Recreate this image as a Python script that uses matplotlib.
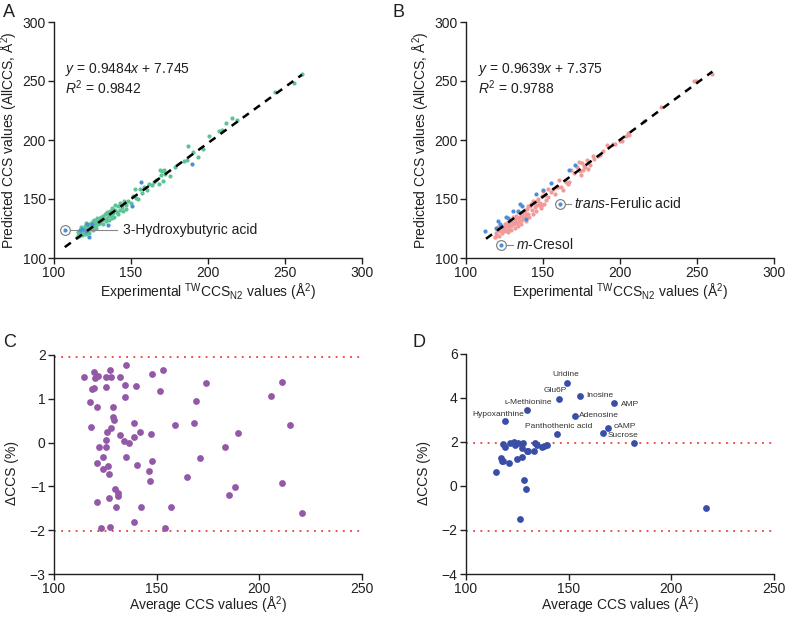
import matplotlib
matplotlib.use("Agg")

import matplotlib.pyplot as plt

# ---- panel A: AllCCS vs TWCCS (set 1) ----
a_green_x = [261.3, 255.9, 243.3, 219.1, 215.5, 212.0, 209.4, 207.2, 200.7, 196.9, 193.4, 190.2, 187.1, 186.1,
             184.5, 178.5, 168.8, 170.3, 171.6, 169.8, 172.4, 175.2, 168.1, 170.9, 164.9, 163.4, 160.1, 155.8,
             152.5, 154.7, 151.5, 148.2, 145.4, 142.8, 141.7, 139.6, 137.8, 139.6, 136.3, 134.2, 135.2, 132.0,
             129.8, 127.7, 125.5, 123.4, 121.6, 120.1, 117.9, 116.9, 115.1,
             144.0, 143.0, 141.0, 138.5, 137.0, 136.0, 134.5, 133.0, 132.5, 131.0, 130.5, 130.0, 129.0, 128.5,
             128.0, 127.0, 126.5, 126.0, 125.0, 124.5, 124.0, 123.5, 122.5, 122.0, 121.5, 121.0, 120.5, 120.0,
             119.5, 119.0, 118.5, 118.0, 117.5, 117.0, 116.5, 116.0, 115.5, 127.5, 125.5, 123.0, 121.0, 131.5,
             133.5, 135.5, 146.5, 147.0, 150.0, 153.0, 157.0, 158.5, 162.0, 166.0, 139.0, 141.5, 145.0, 137.5]
a_green_y = [255.6, 248.0, 241.0, 217.0, 218.9, 214.7, 208.2, 207.4, 203.1, 192.4, 185.6, 189.8, 194.6, 183.3,
             182.0, 177.5, 174.9, 173.4, 174.3, 170.6, 171.5, 169.8, 162.7, 165.0, 164.1, 162.1, 157.3, 158.8,
             158.5, 150.0, 152.3, 148.6, 148.0, 146.6, 144.4, 145.2, 142.4, 140.4, 140.1, 139.0, 136.7, 135.9,
             133.9, 132.5, 131.1, 129.1, 127.4, 125.4, 124.0, 121.2, 117.8,
             143.0, 140.5, 139.0, 138.0, 136.0, 138.5, 134.0, 137.5, 133.0, 132.0, 134.5, 129.5, 131.0, 128.5,
             133.5, 129.5, 127.0, 132.0, 128.0, 126.0, 130.0, 124.5, 127.0, 125.5, 123.0, 129.5, 122.0, 127.5,
             120.5, 125.0, 122.5, 119.5, 126.0, 123.5, 120.0, 118.5, 122.0, 125.5, 124.0, 121.5, 120.0, 129.0,
             131.0, 132.5, 145.0, 141.5, 147.0, 150.5, 155.0, 160.5, 162.5, 166.0, 135.0, 137.5, 139.5, 133.5]
a_blue_x = [107.1, 121.6, 124.4, 122.5, 135.2, 156.2, 150.8, 118.0, 116.9, 189.7, 120.5]
a_blue_y = [124.0, 128.8, 128.8, 117.5, 128.2, 164.1, 144.3, 124.6, 124.0, 180.0, 122.5]

# ---- panel B: AllCCS vs TWCCS (set 2) ----
b_pink_x = [259.6, 247.9, 249.6, 226.3, 215.7, 205.3, 203.8, 199.9, 195.6, 191.7, 189.1, 185.8, 182.2, 178.3,
            175.0, 173.1, 177.0, 179.4, 173.9, 171.8, 170.1, 168.5, 164.9, 160.3, 159.9, 156.6, 153.2, 150.2,
            149.1, 146.9, 149.1, 145.4, 143.7, 141.5, 139.8, 138.3, 136.1, 133.9, 131.8, 129.6, 127.5, 124.9,
            123.1, 120.3, 118.8,
            180.5, 176.0, 174.5, 167.0, 162.0, 158.5, 155.0, 152.0, 151.0, 148.0, 147.5, 146.0, 144.5, 143.0,
            142.0, 140.5, 140.0, 139.0, 138.0, 137.5, 137.0, 136.5, 135.5, 135.0, 134.5, 134.0, 133.0, 132.5,
            132.0, 131.0, 130.5, 130.0, 129.0, 128.5, 128.0, 127.0, 126.5, 126.0, 125.5, 125.0, 124.0, 123.5,
            122.5, 122.0, 121.5, 121.0, 120.0, 119.5, 119.0, 138.8, 141.0, 145.5, 143.5, 136.0, 133.5, 131.5,
            129.5, 127.5, 148.5, 150.5, 153.5, 157.5, 163.0, 166.0, 176.5, 183.0, 187.0, 197.0, 201.0, 206.0]
b_pink_y = [255.6, 250.3, 250.3, 228.0, 215.8, 205.9, 203.7, 198.9, 196.6, 195.5, 191.0, 186.2, 186.2, 183.3,
            180.5, 181.4, 176.8, 175.4, 173.4, 176.8, 172.0, 174.3, 164.1, 166.4, 159.9, 158.8, 158.8, 156.5,
            152.3, 150.0, 145.2, 145.2, 148.0, 143.8, 141.5, 138.1, 135.9, 133.9, 131.1, 129.1, 126.8, 124.6,
            122.6, 119.8, 117.8,
            178.5, 174.5, 170.0, 164.5, 160.0, 160.5, 156.0, 149.0, 153.5, 147.0, 144.5, 148.5, 143.0, 140.5,
            145.5, 137.5, 144.0, 136.5, 141.0, 134.0, 138.5, 132.0, 137.5, 135.0, 131.5, 139.0, 130.0, 136.0,
            133.5, 128.5, 135.0, 130.5, 127.0, 132.5, 129.5, 124.5, 130.0, 127.5, 123.0, 129.0, 126.5, 121.0,
            125.0, 123.0, 119.0, 126.0, 124.0, 121.5, 118.0, 131.5, 134.5, 139.5, 137.0, 128.5, 127.0, 125.5,
            124.0, 122.0, 142.0, 146.0, 152.0, 154.0, 158.0, 162.5, 178.0, 184.0, 187.0, 197.0, 199.5, 204.0]
b_blue_x = [112.5, 120.8, 121.8, 122.5, 119.7, 127.2, 130.5, 134.8, 139.1, 145.6, 149.9, 155.3, 167.0, 170.5,
            160.8, 122.9, 133.9, 126.0, 136.5]
b_blue_y = [122.6, 131.0, 128.8, 126.8, 125.4, 133.9, 139.5, 146.0, 133.1, 154.5, 157.3, 163.6, 174.9, 179.1,
            146.0, 111.3, 139.5, 134.5, 144.0]

# ---- panel C: Bland-Altman style ----
c_x = [114.6, 119.3, 119.8, 121.6, 125.3, 127.4, 127.7, 135.0, 132.1, 147.5, 153.2, 118.3, 119.5, 125.4,
       134.7, 140.1, 134.5, 151.7, 174.0, 210.9, 205.9, 117.5, 120.8, 128.7, 169.1, 117.8, 128.5, 129.2,
       127.9, 139.2, 158.9, 168.4, 215.1, 125.6, 131.9, 139.2, 141.8, 147.0, 189.8, 125.1, 134.0, 136.3,
       125.3, 122.1, 183.2, 123.7, 135.0, 171.3, 121.1, 126.3, 123.8, 127.0, 140.2, 147.5, 146.4, 146.7,
       164.9, 129.8, 131.4, 131.2, 188.3, 185.1, 210.9, 120.8, 127.0, 130.2, 142.6, 156.9, 220.6, 139.2,
       122.7, 127.4, 154.0]
c_y = [1.50, 1.61, 1.47, 1.53, 1.49, 1.66, 1.50, 1.76, 1.50, 1.56, 1.65, 1.23, 1.25, 1.26,
       1.32, 1.29, 1.04, 1.17, 1.36, 1.39, 1.07, 0.93, 0.81, 0.81, 0.94, 0.35, 0.59, 0.52,
       0.34, 0.44, 0.39, 0.45, 0.41, 0.23, 0.17, 0.12, 0.24, 0.19, 0.22, 0.05, 0.04, -0.02,
       -0.11, -0.11, -0.10, -0.32, -0.34, -0.35, -0.47, -0.53, -0.61, -0.72, -0.52, -0.41, -0.66, -0.88,
       -0.78, -1.07, -1.16, -1.23, -1.02, -1.20, -0.93, -1.35, -1.26, -1.46, -1.46, -1.46, -1.60, -1.81,
       -1.95, -1.93, -1.95]
c_limits = [1.96, -2.03]

# ---- panel D ----
d_x = [149.2, 145.3, 155.7, 171.9, 129.5, 152.9, 119.2, 144.2, 169.0, 166.6, 181.7,
       118.2, 119.2, 121.4, 123.5, 123.9, 125.5, 127.6, 127.3, 129.5, 130.4, 133.6, 134.7, 136.9,
       138.0, 139.6, 133.3, 127.1, 124.9, 117.0, 117.4, 118.2, 120.8, 114.6, 128.4, 129.2, 126.3, 216.9]
d_y = [4.66, 3.97, 4.11, 3.75, 3.46, 3.19, 2.97, 2.34, 2.65, 2.41, 1.96,
       1.90, 1.75, 1.96, 2.02, 1.87, 1.96, 1.93, 1.72, 1.60, 1.57, 1.93, 1.87, 1.78,
       1.83, 1.84, 1.59, 1.30, 1.23, 1.26, 1.15, 1.12, 1.03, 0.62, 0.29, -0.12, -1.52, -0.98]
d_limits = [1.96, -2.06]
d_names = ["Uridine", "Glu6P", "Inosine", "AMP", "\u029f-Methionine", "Adenosine", "Hypoxanthine",
           "Panthothenic acid", "cAMP", "Sucrose"]
d_name_x = [148.5, 143.7, 158.4, 175.3, 130.5, 155.2, 115.6, 145.3, 172.1, 176.5]
d_name_y = [5.05, 4.33, 4.11, 3.72, 3.78, 3.21, 3.25, 2.68, 2.68, 2.29]
d_name_ha = ["center", "center", "left", "left", "center", "left", "center", "center", "left", "center"]

TXT = "#231f20"
plt.rcParams["font.family"] = ["Liberation Sans", "DejaVu Sans"]
plt.rcParams["mathtext.fontset"] = "custom"
plt.rcParams["mathtext.rm"] = "Liberation Sans"
plt.rcParams["mathtext.it"] = "Liberation Sans:italic"
plt.rcParams["font.size"] = 10
plt.rcParams["text.color"] = TXT
plt.rcParams["axes.labelcolor"] = TXT
plt.rcParams["xtick.color"] = TXT
plt.rcParams["ytick.color"] = TXT

fig = plt.figure(figsize=(7.87, 6.19), dpi=100)
W, H = 787, 619


def add_ax(x0, x1, ytop, ybot):
    ax = fig.add_axes([x0 / W, 1 - ybot / H, (x1 - x0) / W, (ybot - ytop) / H])
    for s in ["top", "right"]:
        ax.spines[s].set_visible(False)
    for s in ["left", "bottom"]:
        ax.spines[s].set_color(TXT)
        ax.spines[s].set_linewidth(1.0)
    ax.tick_params(direction="out", length=4, width=1, labelsize=10, pad=2)
    return ax


xlab_tw = "Experimental $^{\\mathrm{TW}}$CCS$_{\\mathrm{N2}}$ values (Å$^2$)"
ylab_all = "Predicted CCS values (AllCCS, Å$^2$)"

# A
axA = add_ax(54, 362, 22, 258)
axA.scatter(a_green_x, a_green_y, s=9, color="#5cc396", lw=0, zorder=2)
axA.scatter(a_blue_x, a_blue_y, s=9, color="#4a8fd8", lw=0, zorder=3)
axA.plot([107, 261], [0.9484 * 107 + 7.745, 0.9484 * 261 + 7.745], ls=(0, (3, 2.5)), color="black", lw=1.8, zorder=4)
axA.plot([a_blue_x[0]], [a_blue_y[0]], "o", mfc="none", mec="#777777", ms=7, mew=0.8)
axA.plot([110.5, 141], [a_blue_y[0], a_blue_y[0]], color="#888888", lw=0.8)
axA.text(145, a_blue_y[0], "3-Hydroxybutyric acid", va="center", fontsize=10)
axA.text(107, 259.6, "$y$ = 0.9484$x$ + 7.745", va="center", fontsize=10)
axA.text(107, 244.5, "$R^2$ = 0.9842", va="center", fontsize=10)
axA.set_xlim(100, 300)
axA.set_ylim(100, 300)
axA.set_xticks([100, 150, 200, 250, 300])
axA.set_yticks([100, 150, 200, 250, 300])
axA.set_xlabel(xlab_tw)
axA.set_ylabel(ylab_all)
axA.xaxis.set_label_coords(0.5, -0.1)
axA.yaxis.set_label_coords(-0.11, 0.5)

# B
axB = add_ax(466, 774, 22, 258)
axB.scatter(b_pink_x, b_pink_y, s=9, color="#f29a9a", lw=0, zorder=2)
axB.scatter(b_blue_x, b_blue_y, s=9, color="#4a8fd8", lw=0, zorder=3)
axB.plot([113, 260], [0.9639 * 113 + 7.375, 0.9639 * 260 + 7.375], ls=(0, (3, 2.5)), color="black", lw=1.8, zorder=4)
for i, (lab, ty) in enumerate([("$\\it{trans}$-Ferulic acid", 146.0), ("$\\it{m}$-Cresol", 111.3)]):
    px = b_blue_x[14 + i]
    axB.plot([px], [ty], "o", mfc="none", mec="#777777", ms=7, mew=0.8)
    axB.plot([px + 3.2, px + 7.5], [ty, ty], color="#888888", lw=0.8)
    axB.text(px + 9.5, ty, lab, va="center", fontsize=10)
axB.text(108, 259.6, "$y$ = 0.9639$x$ + 7.375", va="center", fontsize=10)
axB.text(108, 244.5, "$R^2$ = 0.9788", va="center", fontsize=10)
axB.set_xlim(100, 300)
axB.set_ylim(100, 300)
axB.set_xticks([100, 150, 200, 250, 300])
axB.set_yticks([100, 150, 200, 250, 300])
axB.set_xlabel(xlab_tw)
axB.set_ylabel(ylab_all)
axB.xaxis.set_label_coords(0.5, -0.1)
axB.yaxis.set_label_coords(-0.11, 0.5)

# C
axC = add_ax(54, 362, 333, 574)
axC.scatter(c_x, c_y, s=24, color="#9358a6", lw=0, zorder=3)
for v in c_limits:
    axC.axhline(v, color="#f03c3c", ls=(0, (1, 3)), lw=1.3, zorder=2)
axC.set_xlim(100, 250)
axC.set_ylim(-3, 2.5)
axC.set_xticks([100, 150, 200, 250])
axC.set_yticks([-3, -2, -1, 0, 1, 2])
axC.spines["left"].set_bounds(-3, 2)
axC.set_xlabel("Average CCS values (Å$^2$)")
axC.set_ylabel("ΔCCS (%)")
axC.xaxis.set_label_coords(0.5, -0.088)
axC.yaxis.set_label_coords(-0.115, 0.42)

# D
axD = add_ax(466, 774, 333, 574)
axD.scatter(d_x, d_y, s=24, color="#3a4ea6", lw=0, zorder=3)
for v in d_limits:
    axD.axhline(v, color="#f03c3c", ls=(0, (1, 3)), lw=1.3, zorder=2)
for nm, tx, ty, ha in zip(d_names, d_name_x, d_name_y, d_name_ha):
    axD.text(tx, ty, nm, ha=ha, va="center", fontsize=6, color="#333333")
axD.set_xlim(100, 250)
axD.set_ylim(-4, 6.95)
axD.set_xticks([100, 150, 200, 250])
axD.set_yticks([-4, -2, 0, 2, 4, 6])
axD.spines["left"].set_bounds(-4, 6)
axD.set_xlabel("Average CCS values (Å$^2$)")
axD.set_ylabel("ΔCCS (%)")
axD.xaxis.set_label_coords(0.5, -0.088)
axD.yaxis.set_label_coords(-0.115, 0.42)

# panel letters
for lab, px, py in [("A", 3, 4), ("B", 392, 4), ("C", 3, 334), ("D", 412, 334)]:
    fig.text(px / W, 1 - py / H, lab, fontsize=13, va="top", ha="left")

fig.savefig("out.png", dpi=100)
